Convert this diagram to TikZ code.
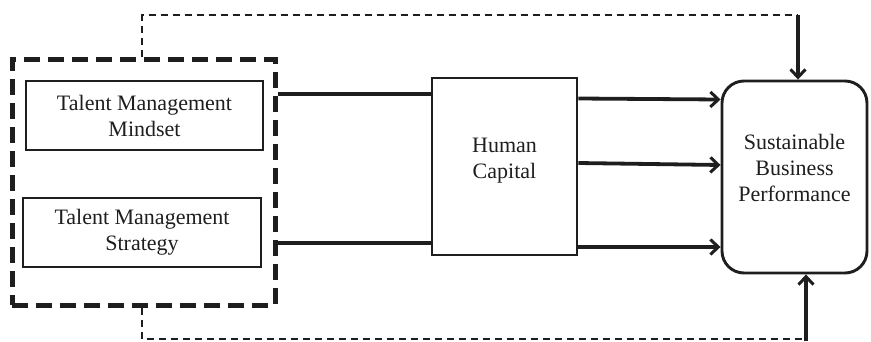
\documentclass[tikz,border=0pt]{standalone}
\usepackage{fontspec}
\setmainfont{Liberation Serif}
\usetikzlibrary{arrows.meta}
\definecolor{ink}{HTML}{1E1E1E}
\begin{document}
\begin{tikzpicture}[x=1pt,y=-1pt,
  every node/.style={font=\fontsize{22}{26}\selectfont, text=ink, align=center, inner sep=0pt},
  box/.style={draw=ink, line width=2.9pt, rectangle},
  group/.style={draw=ink, line width=5pt, dash pattern=on 16pt off 8pt, rectangle},
  link/.style={draw=ink, line width=3.8pt},
  flow/.style={link, -{Straight Barb[length=8pt,width=15pt,line width=3pt]}},
  feedback/.style={draw=ink, line width=1.8pt, dash pattern=on 7pt off 5pt}]
\useasboundingbox (0,0) rectangle (871,341);

% talent management group
\node[group, minimum width=263pt, minimum height=246pt] (grp) at (143.5,182) {};
\node[box, minimum width=237pt, minimum height=69pt] (tmm) at (144.5,115.5) {Talent Management\\Mindset};
\node[box, minimum width=238pt, minimum height=69pt] (tms) at (142,232.5) {Talent Management\\Strategy};

% mediator and outcome
\node[box, minimum width=145pt, minimum height=177pt, text depth=17pt] (hc) at (504.5,166.5) {Human\\Capital};
\node[box, rounded corners=22pt, minimum width=145pt, minimum height=192pt, text depth=19pt] (sbp) at (794.5,177) {Sustainable\\Business\\Performance};

% group to human capital
\draw[link] ([yshift=88pt]grp.east) -- ([yshift=72.5pt]hc.west);
\draw[link] ([yshift=-61pt]grp.east) -- ([yshift=-76.5pt]hc.west);

% human capital to performance
\draw[flow] ([yshift=68pt]hc.east) -- ([yshift=77.5pt]sbp.west);
\draw[flow] ([yshift=3.5pt]hc.east) -- ([yshift=12pt]sbp.west);
\draw[flow] ([yshift=-80.5pt]hc.east) -- ([yshift=-70pt]sbp.west);

% direct paths from the group to performance
\coordinate (tr) at (798,15);
\coordinate (br) at (806,339);
\draw[feedback] ([xshift=-1.5pt]grp.north) |- (tr);
\draw[flow] (tr) -- (tr |- sbp.north);
\draw[feedback] ([xshift=-1.5pt]grp.south) |- (br);
\draw[flow] ([yshift=-2pt]br) -- (br |- sbp.south);
\end{tikzpicture}
\end{document}
